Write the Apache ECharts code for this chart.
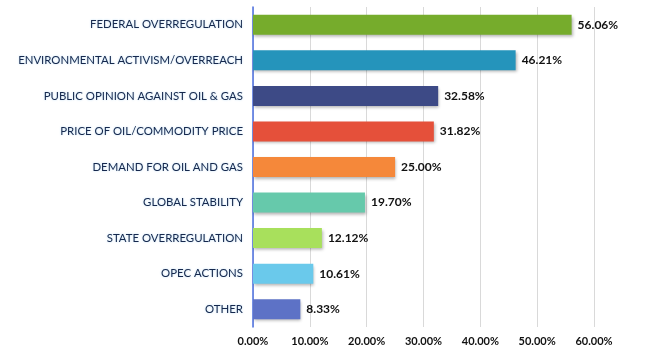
<!DOCTYPE html>
<html><head><meta charset="utf-8">
<script src="https://cdn.jsdelivr.net/npm/echarts@6/dist/echarts.min.js"></script>
<style>html,body{margin:0;padding:0;background:#fff}#c{width:650px;height:356px}</style>
</head><body><div id="c"></div>
<script>
const categories = ["FEDERAL OVERREGULATION","ENVIRONMENTAL ACTIVISM/OVERREACH","PUBLIC OPINION AGAINST OIL & GAS","PRICE OF OIL/COMMODITY PRICE","DEMAND FOR OIL AND GAS","GLOBAL STABILITY","STATE OVERREGULATION","OPEC ACTIONS","OTHER"];
const values = [56.06,46.21,32.58,31.82,25.00,19.70,12.12,10.61,8.33];
const colors = ["#76AC2C","#2594BB","#3D4A86","#E5503A","#F5883A","#66C9AB","#A8E05C","#6AC9EB","#5D72C6"];
const chart = echarts.init(document.getElementById('c'));
chart.setOption({
  animation:false,
  grid:{left:253,right:56,top:7,bottom:29,containLabel:false},
  xAxis:{type:'value',min:0,max:60,interval:10,
    axisLabel:{formatter:v=>v.toFixed(2)+'%',fontFamily:'Lato',fontWeight:'bold',fontSize:11,color:'#111',margin:9},
    splitLine:{lineStyle:{color:'#d9d9d9'}},axisLine:{show:false},axisTick:{show:false}},
  yAxis:{type:'category',inverse:true,data:categories,
    axisLine:{lineStyle:{color:'#4a6ee0',width:1.5}},axisTick:{show:false},
    axisLabel:{fontFamily:'Lato',fontSize:11.4,color:'#16284d',margin:10,
      textShadowColor:'rgba(90,170,230,0.45)',textShadowBlur:2}},
  series:[{type:'bar',barWidth:20,
    data:values.map((v,i)=>({value:v,itemStyle:{color:colors[i]}})),
    itemStyle:{shadowColor:'rgba(0,0,0,0.3)',shadowBlur:3,shadowOffsetX:1,shadowOffsetY:2},
    label:{show:true,position:'right',distance:6,formatter:p=>p.value.toFixed(2)+'%',fontFamily:'Lato',fontWeight:'bold',fontSize:12,color:'#111'}}]
});
</script></body></html>
